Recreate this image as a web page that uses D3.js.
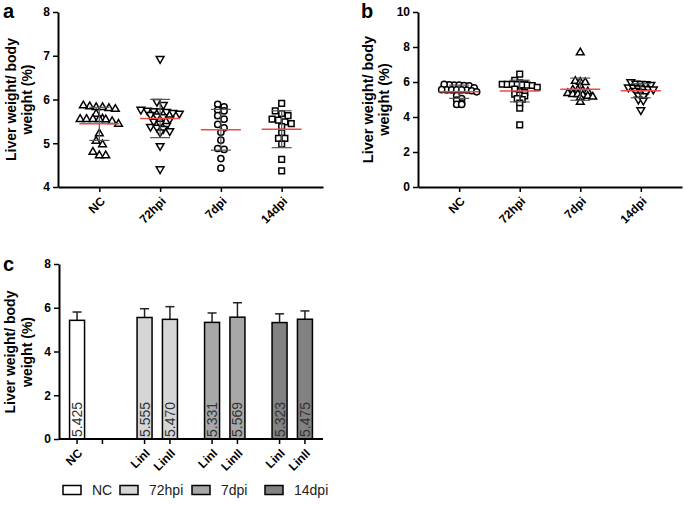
<!DOCTYPE html>
<html>
<head>
<meta charset="utf-8">
<script src="https://d3js.org/d3.v7.min.js"></script>
<style>
body { margin: 0; background: #fff; }
text { font-family: "Liberation Sans", Arial, sans-serif; }
.tick text { font-weight: bold; font-size: 12px; fill: #000; }
</style>
</head>
<body>
<svg width="685" height="505"></svg>
<script>
var groups = ["NC", "72hpi", "7dpi", "14dpi"];

// individual mice, lineage I (panel a) and lineage II (panel b)
var ncValues   = [5.82, 5.82, 5.84, 5.86, 5.80, 5.78, 5.67, 5.55, 5.55, 5.55, 5.56, 5.54, 5.55, 5.50, 5.44, 5.22, 5.05, 4.97, 4.80, 4.72, 4.72];
var hpi72LinI  = [6.93, 5.95, 5.88, 5.77, 5.75, 5.74, 5.73, 5.72, 5.70, 5.68, 5.65, 5.62, 5.60, 5.55, 5.50, 5.45, 5.40, 5.38, 5.36, 5.33, 5.28, 5.25, 4.94, 4.41];
var dpi7LinI   = [5.83, 5.74, 5.89, 5.76, 5.63, 5.43, 5.55, 5.35, 5.25, 5.07, 4.88, 4.86, 4.65, 4.43];
var dpi14LinI  = [5.91, 5.74, 5.68, 5.63, 5.53, 5.49, 5.55, 5.45, 5.38, 5.24, 5.11, 5.11, 4.98, 4.63, 4.37];
var hpi72LinII = [6.45, 6.10, 5.95, 5.90, 5.87, 5.86, 5.86, 5.85, 5.84, 5.82, 5.80, 5.70, 5.45, 5.40, 5.60, 5.30, 5.25, 5.20, 5.00, 5.05, 4.80, 4.50, 3.55];
var dpi7LinII  = [7.68, 6.05, 6.00, 5.98, 5.75, 5.55, 5.55, 5.50, 5.45, 5.35, 5.30, 5.30, 5.25, 5.20, 5.15, 5.10, 4.85];
var dpi14LinII = [6.00, 5.92, 5.90, 5.88, 5.85, 5.70, 5.68, 5.65, 5.62, 5.60, 5.58, 5.50, 5.45, 5.40, 5.25, 5.20, 5.00, 4.95, 4.40];

var aTicks = [4, 5, 6, 7, 8];
var bTicks = [0, 2, 4, 6, 8, 10];
var cTicks = [0, 2, 4, 6, 8];

// panel c bars
var barGroup   = ["NC", "72hpi", "72hpi", "7dpi", "7dpi", "14dpi", "14dpi"];
var barSlot    = ["I", "I", "II", "I", "II", "I", "II"];
var barMean    = [5.425, 5.555, 5.470, 5.331, 5.569, 5.323, 5.475];
var barSD      = [0.38, 0.40, 0.58, 0.43, 0.66, 0.40, 0.38];
var barLabel   = ["5.425", "5.555", "5.470", "5.331", "5.569", "5.323", "5.475"];
var slotLabels = {NC: ["NC", ""], "72hpi": ["LinI", "LinII"], "7dpi": ["LinI", "LinII"], "14dpi": ["LinI", "LinII"]};

var groupFill = {NC: "#ffffff", "72hpi": "#d6d6d6", "7dpi": "#a8a8a8", "14dpi": "#828282"};

var svg = d3.select("svg");

// put points into rows and centre each row (GraphPad style)
function swarm(vals, y, sx, sy) {
  var off = [], rows = [];
  var order = vals.map(function(v, i) { return i; }).sort(function(a, b) { return vals[b] - vals[a]; });
  order.forEach(function(i) {
    var r = rows[rows.length - 1];
    if (r && y(vals[i]) - r.y0 < sy) r.idx.push(i);
    else rows.push({y0: y(vals[i]), idx: [i]});
  });
  rows.forEach(function(r) {
    r.idx.forEach(function(i, j) { off[i] = (j - (r.idx.length - 1) / 2) * sx; });
  });
  return off;
}

function yTitle(g, x1, x2, cy, size) {
  g.append("text").attr("transform", "translate(" + x1 + "," + cy + ") rotate(-90)")
    .attr("text-anchor", "middle").attr("dy", "0.35em")
    .style("font-weight", "bold").style("font-size", size + "px").text("Liver weight/ body");
  g.append("text").attr("transform", "translate(" + x2 + "," + cy + ") rotate(-90)")
    .attr("text-anchor", "middle").attr("dy", "0.35em")
    .style("font-weight", "bold").style("font-size", size + "px").text("weight (%)");
}

function styleAxis(g) {
  g.select(".domain").attr("stroke", "#000").attr("stroke-width", 2);
  g.selectAll(".tick line").attr("stroke", "#000").attr("stroke-width", 1.5);
}

function scatterPanel(opt) {
  var x = d3.scalePoint().domain(groups).range([opt.x0, opt.x1]).padding(0.68);
  var y = d3.scaleLinear().domain(opt.domain).range([opt.y0, opt.y1]);

  var gy = svg.append("g").attr("transform", "translate(" + opt.x0 + ",0)")
    .call(d3.axisLeft(y).tickValues(opt.ticks).tickFormat(d3.format("d")).tickSize(5).tickPadding(3).tickSizeOuter(0));
  styleAxis(gy);

  var gx = svg.append("g").attr("transform", "translate(0," + opt.y0 + ")")
    .call(d3.axisBottom(x).tickSize(5).tickSizeOuter(0));
  styleAxis(gx);
  gx.selectAll(".tick text").attr("x", 0).attr("y", 0).attr("dy", "0.35em")
    .attr("transform", "translate(3,12) rotate(-45)").style("text-anchor", "end");

  opt.sets.forEach(function(s, gi) {
    var cx = x(groups[gi]);
    var off = swarm(s.vals, y, opt.sx, opt.sy);
    var sym = d3.symbol().type(s.type).size(s.size);
    svg.append("g").selectAll("path").data(s.vals).enter().append("path")
      .attr("d", sym)
      .attr("transform", function(d, i) { return "translate(" + (cx + off[i]) + "," + y(d) + ")" + (s.down ? " rotate(180)" : ""); })
      .attr("fill", "#fff").attr("stroke", "#000").attr("stroke-width", 1.5);

    var m = d3.mean(s.vals), sd = d3.deviation(s.vals);
    var eb = svg.append("g").attr("stroke", "#555").attr("stroke-width", 1.2);
    eb.append("line").attr("x1", cx).attr("x2", cx).attr("y1", y(m - sd)).attr("y2", y(m + sd));
    [m - sd, m + sd].forEach(function(v) {
      eb.append("line").attr("x1", cx - 10).attr("x2", cx + 10).attr("y1", y(v)).attr("y2", y(v));
    });
    svg.append("line").attr("x1", cx - 20).attr("x2", cx + 20).attr("y1", y(m)).attr("y2", y(m))
      .attr("stroke", "#f04848").attr("stroke-width", 1.5);
  });

  svg.append("text").attr("x", opt.labelX).attr("y", 18).text(opt.label)
    .style("font-weight", "bold").style("font-size", "20px");
  yTitle(svg, opt.tx1, opt.tx2, (opt.y0 + opt.y1) / 2, opt.titleSize);
}

scatterPanel({
  x0: 58, x1: 323, y0: 187, y1: 12, domain: [4, 8], ticks: aTicks, sx: 6.4, sy: 5,
  label: "a", labelX: 3, tx1: 11, tx2: 27, titleSize: 14,
  sets: [
    {vals: ncValues, type: d3.symbolTriangle, size: 26},
    {vals: hpi72LinI, type: d3.symbolTriangle, size: 26, down: true},
    {vals: dpi7LinI, type: d3.symbolCircle, size: 30},
    {vals: dpi14LinI, type: d3.symbolSquare, size: 32}
  ]
});

scatterPanel({
  x0: 418, x1: 682, y0: 187, y1: 12, domain: [0, 10], ticks: bTicks, sx: 5, sy: 3.5,
  label: "b", labelX: 361, tx1: 368, tx2: 384, titleSize: 14.5,
  sets: [
    {vals: ncValues, type: d3.symbolCircle, size: 30},
    {vals: hpi72LinII, type: d3.symbolSquare, size: 32},
    {vals: dpi7LinII, type: d3.symbolTriangle, size: 26},
    {vals: dpi14LinII, type: d3.symbolTriangle, size: 26, down: true}
  ]
});

// panel c: bar chart
var xg = d3.scaleBand().domain(groups).range([56, 326]).paddingInner(0);
var xs = d3.scalePoint().domain(["I", "II"]).range([0, xg.bandwidth()]).padding(0.83);
var yc = d3.scaleLinear().domain([0, 8]).range([439, 264]);
var bw = 15;
function bx(i) { return xg(barGroup[i]) + xs(barSlot[i]); }

var bars = svg.append("g").selectAll("g").data(barMean).enter().append("g");
bars.append("line")
  .attr("x1", function(d, i) { return bx(i); }).attr("x2", function(d, i) { return bx(i); })
  .attr("y1", function(d) { return yc(d); }).attr("y2", function(d, i) { return yc(d + barSD[i]); })
  .attr("stroke", "#222").attr("stroke-width", 1.5);
bars.append("line")
  .attr("x1", function(d, i) { return bx(i) - 4.5; }).attr("x2", function(d, i) { return bx(i) + 4.5; })
  .attr("y1", function(d, i) { return yc(d + barSD[i]); }).attr("y2", function(d, i) { return yc(d + barSD[i]); })
  .attr("stroke", "#222").attr("stroke-width", 1.5);
bars.append("rect")
  .attr("x", function(d, i) { return bx(i) - bw / 2; }).attr("width", bw)
  .attr("y", function(d) { return yc(d); }).attr("height", function(d) { return yc(0) - yc(d); })
  .attr("fill", function(d, i) { return groupFill[barGroup[i]]; })
  .attr("stroke", "#000").attr("stroke-width", 1.5);
bars.append("text")
  .attr("transform", function(d, i) { return "translate(" + (bx(i) + 5) + "," + (yc(0) - 2) + ") rotate(-90)"; })
  .style("font-size", "14px").attr("fill", "#333")
  .text(function(d, i) { return barLabel[i]; });

var gyc = svg.append("g").attr("transform", "translate(59,0)")
  .call(d3.axisLeft(yc).tickValues(cTicks).tickSize(5).tickPadding(3).tickSizeOuter(0));
styleAxis(gyc);

var gxc = svg.append("g");
gxc.append("line").attr("x1", 59).attr("x2", 323).attr("y1", yc(0)).attr("y2", yc(0))
  .attr("stroke", "#000").attr("stroke-width", 2);
var slots = [];
groups.forEach(function(g) { ["I", "II"].forEach(function(s, k) { slots.push({g: g, s: s, label: slotLabels[g][k]}); }); });
var tk = gxc.selectAll("g.tick").data(slots).enter().append("g").attr("class", "tick")
  .attr("transform", function(d) { return "translate(" + (xg(d.g) + xs(d.s)) + "," + yc(0) + ")"; });
tk.append("line").attr("y2", 5).attr("stroke", "#000").attr("stroke-width", 1.5);
tk.append("text").attr("dy", "0.35em").attr("transform", "translate(3,12) rotate(-45)")
  .style("text-anchor", "end").text(function(d) { return d.label; });

svg.append("text").attr("x", 3).attr("y", 271).text("c")
  .style("font-weight", "bold").style("font-size", "20px");
yTitle(svg, 10, 27, 352, 14);

// legend
var legX = [63, 120, 192, 265];
var lg = svg.append("g").selectAll("g").data(groups).enter().append("g")
  .attr("transform", function(d, i) { return "translate(" + legX[i] + ",490)"; });
lg.append("rect").attr("x", 0).attr("y", -4.5).attr("width", 18).attr("height", 9)
  .attr("fill", function(d) { return groupFill[d]; }).attr("stroke", "#000").attr("stroke-width", 1.5);
lg.append("text").attr("x", 29).attr("dy", "0.35em").style("font-size", "14px").attr("fill", "#222")
  .text(function(d) { return d; });
</script>
</body>
</html>
